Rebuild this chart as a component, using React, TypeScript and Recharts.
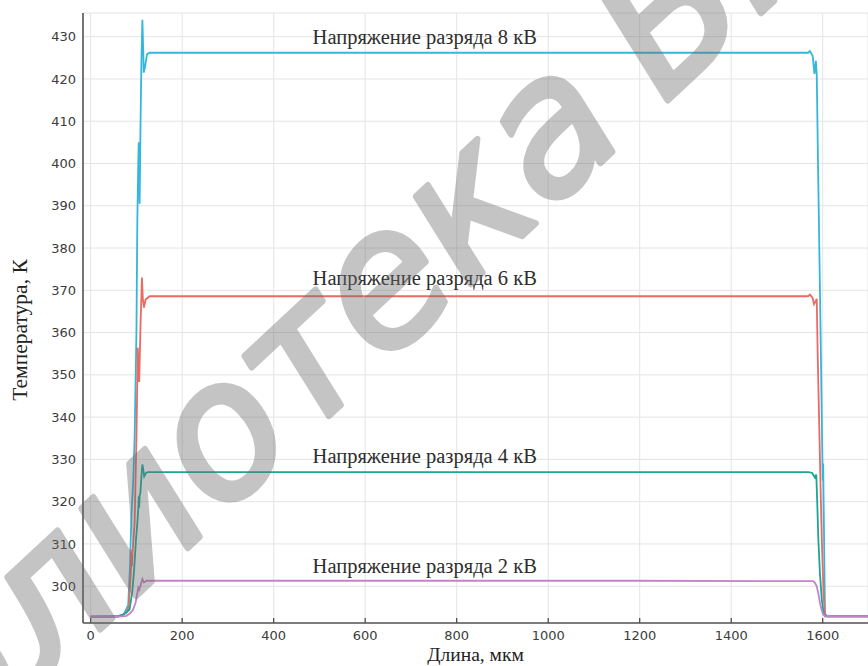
import React from "react";
import { LineChart, Line, XAxis, YAxis, CartesianGrid, ReferenceDot } from "recharts";

// temperature profiles along the channel, K
const kv8X = [0, 40, 60, 70, 74, 82, 86, 89, 93, 96, 100, 102, 104, 105, 106, 107, 109, 111, 113, 115, 116, 119, 123, 128, 400, 800, 1200, 1568, 1572, 1578, 1582, 1585, 1587, 1590, 1594, 1598, 1600, 1601, 1602, 1605, 1610, 1700];
const kv8T = [292.8, 292.8, 292.9, 293.3, 293.7, 295.5, 305, 316.6, 325, 335, 360, 387, 400, 405, 398, 390.5, 410, 425, 434, 426, 421.5, 423, 425.8, 426.2, 426.2, 426.2, 426.2, 426.2, 426.6, 425.5, 421.2, 424.3, 421, 398, 370, 340, 325, 329, 320, 293.5, 292.9, 292.9];

const kv6X = [0, 40, 60, 70, 78, 83, 86, 88, 89, 90, 92, 96, 100, 103, 104, 106, 109, 112, 114, 116.5, 120, 129, 400, 800, 1200, 1568, 1572, 1578, 1581, 1585, 1587, 1589, 1592, 1595, 1598, 1602, 1605, 1610, 1700];
const kv6T = [292.8, 292.8, 292.9, 293.2, 293.8, 295, 300, 304, 308.7, 304.7, 309, 315, 335, 356.4, 352, 348.3, 362, 373, 368, 365.9, 367.8, 368.6, 368.6, 368.6, 368.6, 368.6, 369, 368.2, 366.7, 367.5, 368, 355, 340, 325, 311, 298, 293.2, 292.9, 292.9];

const kv4X = [0, 60, 70, 78, 85, 91, 95, 99, 102, 104, 105, 106, 107, 108.5, 111, 113, 115, 117, 121, 125, 400, 800, 1200, 1569, 1577, 1583, 1586, 1588, 1590.5, 1594, 1598, 1602, 1605, 1700];
const kv4T = [292.8, 292.9, 293.2, 293.8, 294.5, 298.8, 304, 311, 315, 318.2, 321.3, 318.6, 321.5, 322, 326, 328.8, 327.5, 326, 326.8, 327, 327, 327, 327, 327, 326.8, 325.7, 326.4, 320, 311, 303, 296.8, 293.5, 292.9, 292.9];

const kv2X = [0, 60, 70, 78, 85, 92, 98, 104, 106, 109, 113, 116.5, 122, 400, 800, 1200, 1579, 1583, 1587, 1591, 1594, 1598, 1601, 1606, 1700];
const kv2T = [292.8, 292.8, 292.9, 293, 293.5, 294.3, 296, 299.6, 299.2, 300.2, 301.7, 300.9, 301.3, 301.3, 301.3, 301.3, 301.2, 300.8, 300, 298, 296, 294.3, 293.3, 292.9, 292.9];

const xTicks = [0, 200, 400, 600, 800, 1000, 1200, 1400, 1600];
const yTicks = [300, 310, 320, 330, 340, 350, 360, 370, 380, 390, 400, 410, 420, 430];

const captions = ["Напряжение разряда 8 кВ", "Напряжение разряда 6 кВ", "Напряжение разряда 4 кВ", "Напряжение разряда 2 кВ"];
const captionT = [429.9, 373.0, 330.9, 304.8];
const captionX = 485;

const toPoints = (xs: number[], ts: number[]) => xs.map((x, i) => ({ x, t: ts[i] }));

const series = [
  { name: "8 кВ", data: toPoints(kv8X, kv8T), color: "#35b6dc" },
  { name: "6 кВ", data: toPoints(kv6X, kv6T), color: "#ec6a61" },
  { name: "4 кВ", data: toPoints(kv4X, kv4T), color: "#18a697" },
  { name: "2 кВ", data: toPoints(kv2X, kv2T), color: "#c482c8" },
];

const tickFont = { fill: "#3c3c3c", fontSize: 13, fontFamily: "DejaVu Sans" };
const serif = "Liberation Serif";

function BottomTick(p: any) {
  return (
    <g>
      <line x1={p.x} x2={p.x} y1={p.y - 8} y2={p.y - 13} stroke="#444" strokeWidth={1.2} />
      <text x={p.x} y={p.y} dy="0.71em" textAnchor="middle" {...tickFont}>{p.payload.value}</text>
    </g>
  );
}

function TopTick(p: any) {
  return <line x1={p.x} x2={p.x} y1={p.y} y2={p.y + 5} stroke="#444" strokeWidth={1.2} />;
}

function Caption(text: string) {
  return (p: any) => (
    <text x={p.cx} y={p.cy} dominantBaseline="central" fill="#2e2e2e" fontSize={20.5} fontFamily={serif}>{text}</text>
  );
}

// watermark across the plot
const wm = { x: 44, y: 682, angle: -43 };
const wmStyle = {
  fontSize: 186,
  fontStyle: "italic",
  fontFamily: "DejaVu Sans",
  fill: "#6e6e6e",
  stroke: "#6e6e6e",
  strokeWidth: 6,
  strokeLinejoin: "round" as const,
};

export default function App() {
  return (
    <div style={{ position: "relative", width: 868, height: 666, background: "#fff", overflow: "hidden" }}>
      <style>{"body{margin:0;overflow:hidden}"}</style>
      <LineChart width={868} height={666} margin={{ top: 13, right: 0, bottom: 0, left: 0 }}>
        <CartesianGrid stroke="#e4e4e4" strokeWidth={1} />
        <XAxis
          type="number"
          dataKey="x"
          domain={[-16.8, 1699]}
          ticks={xTicks}
          allowDataOverflow
          height={43}
          tickSize={0}
          tickMargin={8}
          axisLine={{ stroke: "#555", strokeWidth: 1.6 }}
          tick={(p: any) => <BottomTick {...p} />}
          label={{
            content: (lp: any) => (
              <text x={lp.viewBox.x + lp.viewBox.width / 2} y={lp.viewBox.y + 31} textAnchor="middle" dominantBaseline="central" fill="#222" fontSize={19.5} fontFamily={serif}>
                Длина, мкм
              </text>
            ),
          }}
        />
        <XAxis
          xAxisId="top"
          orientation="top"
          type="number"
          dataKey="x"
          domain={[-16.8, 1699]}
          ticks={xTicks}
          allowDataOverflow
          height={0}
          tickSize={0}
          tickMargin={0}
          axisLine={{ stroke: "#555", strokeWidth: 1.6 }}
          tick={(p: any) => <TopTick {...p} />}
        />
        <YAxis
          type="number"
          domain={[291.3, 435.6]}
          ticks={yTicks}
          allowDataOverflow
          width={83}
          tickSize={0}
          tickMargin={7}
          axisLine={{ stroke: "#555", strokeWidth: 1.6 }}
          tick={tickFont}
          label={{
            content: (lp: any) => {
              const cx = 20;
              const cy = lp.viewBox.y + lp.viewBox.height / 2 + 12;
              return (
                <text x={cx} y={cy} transform={`rotate(-90 ${cx} ${cy})`} textAnchor="middle" dominantBaseline="central" fill="#222" fontSize={21.5} fontFamily={serif}>
                  Температура, К
                </text>
              );
            },
          }}
        />
        {series.map((s) => (
          <Line
            key={s.name}
            data={s.data}
            dataKey="t"
            name={s.name}
            type="linear"
            stroke={s.color}
            strokeWidth={1.8}
            dot={false}
            activeDot={false}
            isAnimationActive={false}
          />
        ))}
        {captions.map((c, i) => (
          <ReferenceDot key={c} x={captionX} y={captionT[i]} r={0} shape={Caption(c)} />
        ))}
      </LineChart>
      <svg width={868} height={666} style={{ position: "absolute", left: 0, top: 0, pointerEvents: "none" }}>
        <g opacity={0.4} transform={`rotate(${wm.angle} ${wm.x} ${wm.y})`}>
          <text x={wm.x} y={wm.y} textAnchor="end" {...wmStyle}>Биб</text>
          <text x={wm.x} y={wm.y} textAnchor="start" {...wmStyle}>
            лиотека<tspan dx={45}>БГУИР</tspan>
          </text>
        </g>
      </svg>
    </div>
  );
}
